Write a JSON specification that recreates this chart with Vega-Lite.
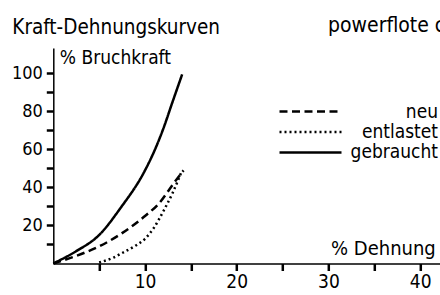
{
  "$schema": "https://vega.github.io/schema/vega-lite/v6.json",
  "width": 387,
  "height": 215.5,
  "autosize": {"type": "none"},
  "padding": {"left": 53.3, "top": 48, "right": 0, "bottom": 31.5},
  "background": "white",
  "config": {
    "font": "DejaVu Sans Condensed, Roboto",
    "view": {"stroke": null},
    "axis": {"grid": false}
  },
  "title": {
    "text": "Kraft-Dehnungskurven",
    "anchor": "start",
    "frame": "group",
    "fontSize": 20.5,
    "fontWeight": "normal",
    "color": "black",
    "baseline": "alphabetic",
    "offset": 0,
    "dx": -41,
    "dy": 40
  },
  "datasets": {
    "curves": [
      {"serie": "gebraucht", "dehnung": 0, "kraft": 0},
      {"serie": "gebraucht", "dehnung": 2.5, "kraft": 6.5},
      {"serie": "gebraucht", "dehnung": 5, "kraft": 15},
      {"serie": "gebraucht", "dehnung": 7.3, "kraft": 29},
      {"serie": "gebraucht", "dehnung": 10, "kraft": 49},
      {"serie": "gebraucht", "dehnung": 11, "kraft": 59},
      {"serie": "gebraucht", "dehnung": 12, "kraft": 71},
      {"serie": "gebraucht", "dehnung": 13, "kraft": 85},
      {"serie": "gebraucht", "dehnung": 14.05, "kraft": 99.5},
      {"serie": "neu", "dehnung": 0, "kraft": 0},
      {"serie": "neu", "dehnung": 2.5, "kraft": 4},
      {"serie": "neu", "dehnung": 5, "kraft": 9},
      {"serie": "neu", "dehnung": 7.5, "kraft": 16},
      {"serie": "neu", "dehnung": 10, "kraft": 25},
      {"serie": "neu", "dehnung": 11.5, "kraft": 31.5},
      {"serie": "neu", "dehnung": 13.1, "kraft": 42},
      {"serie": "neu", "dehnung": 14.2, "kraft": 49},
      {"serie": "entlastet", "dehnung": 5, "kraft": 0.5},
      {"serie": "entlastet", "dehnung": 6.5, "kraft": 3},
      {"serie": "entlastet", "dehnung": 7.5, "kraft": 5.5},
      {"serie": "entlastet", "dehnung": 9, "kraft": 9.5},
      {"serie": "entlastet", "dehnung": 10, "kraft": 13},
      {"serie": "entlastet", "dehnung": 11, "kraft": 19},
      {"serie": "entlastet", "dehnung": 12, "kraft": 27.5},
      {"serie": "entlastet", "dehnung": 13, "kraft": 37},
      {"serie": "entlastet", "dehnung": 14, "kraft": 48.5}
    ]
  },
  "layer": [
    {
      "data": {"name": "curves"},
      "mark": {"type": "line", "color": "black", "strokeWidth": 2.5, "interpolate": "monotone"},
      "encoding": {
        "x": {
          "field": "dehnung",
          "type": "quantitative",
          "scale": {"domain": [0, 42.2], "nice": false, "zero": false},
          "axis": {
            "values": [5, 10, 15, 20, 25, 30, 35, 40],
            "tickCount": 50,
            "labelExpr": "datum.value % 10 === 0 ? datum.label : ''",
            "labelFlush": false,
            "labelOverlap": false,
            "tickSize": 7,
            "tickWidth": 2.5,
            "tickColor": "black",
            "domainColor": "black",
            "domainWidth": 1.5,
            "labelFontSize": 19,
            "labelColor": "black",
            "labelPadding": 2,
            "title": "% Dehnung",
            "titleFontSize": 20,
            "titleFontWeight": "normal",
            "titleColor": "black",
            "titleAlign": "right",
            "titleBaseline": "alphabetic",
            "titleX": 382,
            "titleY": -8.5
          }
        },
        "y": {
          "field": "kraft",
          "type": "quantitative",
          "scale": {"domain": [0, 113.4], "nice": false},
          "axis": {
            "values": [10, 20, 30, 40, 50, 60, 70, 80, 90, 100],
            "tickCount": 50,
            "labelExpr": "datum.value % 20 === 0 ? datum.label : ''",
            "labelOverlap": false,
            "tickSize": 7,
            "tickWidth": 2.5,
            "tickColor": "black",
            "domainColor": "black",
            "domainWidth": 1.5,
            "labelFontSize": 18,
            "labelColor": "black",
            "labelPadding": 4,
            "title": "% Bruchkraft",
            "titleFontSize": 19,
            "titleFontWeight": "normal",
            "titleColor": "black",
            "titleAngle": 0,
            "titleAlign": "left",
            "titleBaseline": "alphabetic",
            "titleX": 6,
            "titleY": 15.3
          }
        },
        "strokeDash": {
          "field": "serie",
          "type": "nominal",
          "scale": {"domain": ["neu", "entlastet", "gebraucht"], "range": [[8, 4.5], [2, 3], [1, 0]]},
          "legend": {
            "orient": "none",
            "legendX": 224.7,
            "legendY": 54.5,
            "title": null,
            "padding": 0,
            "symbolType": "stroke",
            "symbolSize": 3844,
            "symbolStrokeWidth": 2.5,
            "symbolStrokeColor": "black",
            "clipHeight": 18,
            "rowPadding": 1.5,
            "labelAlign": "right",
            "labelOffset": 95,
            "labelFontSize": 19,
            "labelColor": "black"
          }
        }
      }
    },
    {
      "data": {"values": [{}]},
      "mark": {"type": "text", "align": "left", "baseline": "alphabetic", "fontSize": 21, "color": "black"},
      "encoding": {
        "x": {"datum": 29.96},
        "y": {"datum": 122},
        "text": {"value": "powerflote c"}
      }
    }
  ]
}
